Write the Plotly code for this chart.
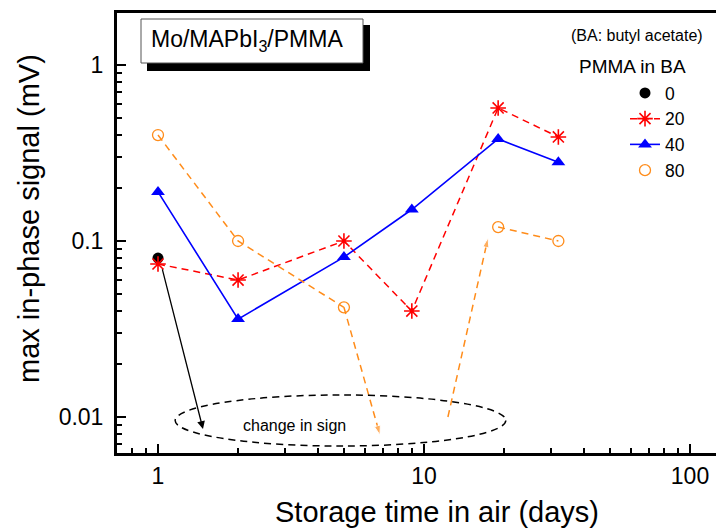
import math
import plotly.graph_objects as go

# ---- data ----
days = [1, 2, 5, 9, 19, 32]
pmma0_x = [1]
pmma0_y = [0.08]
pmma20_y = [0.074, 0.060, 0.100, 0.040, 0.57, 0.39]
pmma40_y = [0.19, 0.036, 0.081, 0.151, 0.38, 0.28]
pmma80_x = [1, 2, 5, 19, 32]
pmma80_y = [0.40, 0.10, 0.042, 0.12, 0.10]

x_ticks = [1, 10, 100]
x_tick_labels = ["1", "10", "100"]
y_ticks = [0.01, 0.1, 1]
y_tick_labels = ["0.01", "0.1", "1"]
x_minor = [0.8, 0.9, 2, 3, 4, 5, 6, 7, 8, 9, 20, 30, 40, 50, 60, 70, 80, 90]
y_minor = [0.007, 0.008, 0.009, 0.02, 0.03, 0.04, 0.05, 0.06, 0.07, 0.08, 0.09,
           0.2, 0.3, 0.4, 0.5, 0.6, 0.7, 0.8, 0.9]

# sign-change annotation geometry (data units)
arrow_black_start = (1.035, 0.0703)
arrow_black_end = (1.476, 0.00855)
arrow_or1_end = (6.83, 0.0079)
arrow_or2_start = (12.3, 0.0100)
arrow_or2_end = (17.4, 0.104)
ellipse_x = (1.16, 20.3)
ellipse_y = (0.00684, 0.01334)
sign_text_pos = (3.27, 0.0089)

FONT = "Liberation Sans, Arial, sans-serif"
RED = "#FF0000"
BLUE = "#0000FF"
ORANGE = "#FF8C1A"

fig = go.Figure()

fig.add_trace(go.Scatter(
    x=pmma0_x, y=pmma0_y, mode="markers", name="0",
    marker=dict(symbol="circle", size=11, color="black")))

fig.add_trace(go.Scatter(
    x=days, y=pmma20_y, mode="lines+markers", name="20",
    line=dict(color=RED, width=1.5, dash="7px,5px"),
    marker=dict(symbol="asterisk-open", size=13, color=RED,
                line=dict(color=RED, width=1.6))))

fig.add_trace(go.Scatter(
    x=days, y=pmma40_y, mode="lines+markers", name="40",
    line=dict(color=BLUE, width=1.6),
    marker=dict(symbol="triangle-up", size=12, color=BLUE)))

# orange dashed connecting segments (no legend)
fig.add_trace(go.Scatter(
    x=pmma80_x[:3], y=pmma80_y[:3], mode="lines", showlegend=False,
    line=dict(color=ORANGE, width=1.5, dash="7px,5px"), hoverinfo="skip"))
fig.add_trace(go.Scatter(
    x=pmma80_x[3:], y=pmma80_y[3:], mode="lines", showlegend=False,
    line=dict(color=ORANGE, width=1.5, dash="7px,5px"), hoverinfo="skip"))
# orange dashed arrows (sign change)
fig.add_trace(go.Scatter(
    x=[pmma80_x[2], arrow_or1_end[0]], y=[pmma80_y[2], arrow_or1_end[1]],
    mode="lines+markers", showlegend=False, hoverinfo="skip",
    line=dict(color=ORANGE, width=1.5, dash="7px,5px"),
    marker=dict(symbol=["circle", "arrow"], size=[0, 10], angleref="previous",
                color=ORANGE)))
fig.add_trace(go.Scatter(
    x=[arrow_or2_start[0], arrow_or2_end[0]], y=[arrow_or2_start[1], arrow_or2_end[1]],
    mode="lines+markers", showlegend=False, hoverinfo="skip",
    line=dict(color=ORANGE, width=1.5, dash="7px,5px"),
    marker=dict(symbol=["circle", "arrow"], size=[0, 10], angleref="previous",
                color=ORANGE)))

fig.add_trace(go.Scatter(
    x=pmma80_x, y=pmma80_y, mode="markers", name="80",
    marker=dict(symbol="circle-open", size=11, color=ORANGE,
                line=dict(color=ORANGE, width=1.3))))

# plot-area pixel frame: x 117..716, y 13..453
L, T, W, H = 117, 13, 599, 440


def px(xp):
    return (xp - L) / W


def py(yp):
    return (T + H - yp) / H


shapes = [
    # shadow of the title box
    dict(type="rect", xref="paper", yref="paper", x0=px(147), x1=px(370),
         y0=py(71), y1=py(25), fillcolor="black", line=dict(width=0), layer="above"),
    dict(type="rect", xref="paper", yref="paper", x0=px(141), x1=px(363),
         y0=py(63), y1=py(19), fillcolor="white", line=dict(color="#555555", width=1),
         layer="above"),
    dict(type="circle", xref="x", yref="y", x0=ellipse_x[0], x1=ellipse_x[1],
         y0=ellipse_y[0], y1=ellipse_y[1], line=dict(color="black", width=1.5, dash="7px,5px")),
]

annotations = [
    dict(xref="paper", yref="paper", x=px(149), y=py(41), xanchor="left", yanchor="middle",
         text="Mo/MAPbI<sub>3</sub>/PMMA", showarrow=False,
         font=dict(size=23, color="black", family=FONT)),
    dict(xref="paper", yref="paper", x=px(637), y=py(35), xanchor="center", yanchor="middle",
         text="(BA: butyl acetate)", showarrow=False,
         font=dict(size=16, color="black", family=FONT)),
    dict(xref="paper", yref="paper", x=px(632), y=py(67), xanchor="center", yanchor="middle",
         text="PMMA in BA", showarrow=False,
         font=dict(size=19, color="black", family=FONT)),
    dict(xref="x", yref="y", x=math.log10(sign_text_pos[0]), y=math.log10(sign_text_pos[1]),
         xanchor="center", yanchor="middle",
         text="change in sign", showarrow=False,
         font=dict(size=16, color="black", family=FONT)),
    dict(xref="x", yref="y", axref="x", ayref="y",
         x=math.log10(arrow_black_end[0]), y=math.log10(arrow_black_end[1]),
         ax=math.log10(arrow_black_start[0]), ay=math.log10(arrow_black_start[1]),
         showarrow=True, arrowhead=2, arrowsize=1.2, arrowwidth=1.3, arrowcolor="black",
         text=""),
    # axis titles
    dict(xref="paper", yref="paper", x=px(29), y=py(219), textangle=-90,
         xanchor="center", yanchor="middle",
         text="max in-phase signal (mV)", showarrow=False,
         font=dict(size=29, color="black", family=FONT)),
    dict(xref="paper", yref="paper", x=px(437), y=py(512),
         xanchor="center", yanchor="middle",
         text="Storage time in air (days)", showarrow=False,
         font=dict(size=29, color="black", family=FONT)),
]

axis_common = dict(
    type="log", showgrid=False, zeroline=False, showline=True, linewidth=3,
    linecolor="black", ticks="inside", ticklen=9, tickwidth=2, tickcolor="black",
    tickfont=dict(size=23, color="black", family=FONT),
)

fig.update_layout(
    width=716, height=529,
    margin=dict(l=L, r=0, t=T, b=529 - T - H, pad=0),
    paper_bgcolor="white", plot_bgcolor="white",
    font=dict(family=FONT, color="black"),
    xaxis=dict(**axis_common, range=[(L - 158) / 266, (716 - 158) / 266],
               tickmode="array", tickvals=x_ticks, ticktext=x_tick_labels, mirror=True,
               minor=dict(tickmode="array", tickvals=x_minor, ticks="inside",
                          ticklen=5, tickwidth=2, tickcolor="black")),
    yaxis=dict(**axis_common, range=[-(453 - 65) / 176, (65 - 13) / 176],
               tickmode="array", tickvals=y_ticks, ticktext=y_tick_labels,
               ticklabelstandoff=6,
               minor=dict(tickmode="array", tickvals=y_minor, ticks="inside",
                          ticklen=5, tickwidth=2, tickcolor="black")),
    legend=dict(x=px(625), y=py(75), xanchor="left", yanchor="top",
                bgcolor="rgba(0,0,0,0)", font=dict(size=17.5, color="black", family=FONT),
                tracegroupgap=0, itemwidth=30),
    shapes=shapes,
    annotations=annotations,
    showlegend=True,
)

fig.write_html("out.html")
